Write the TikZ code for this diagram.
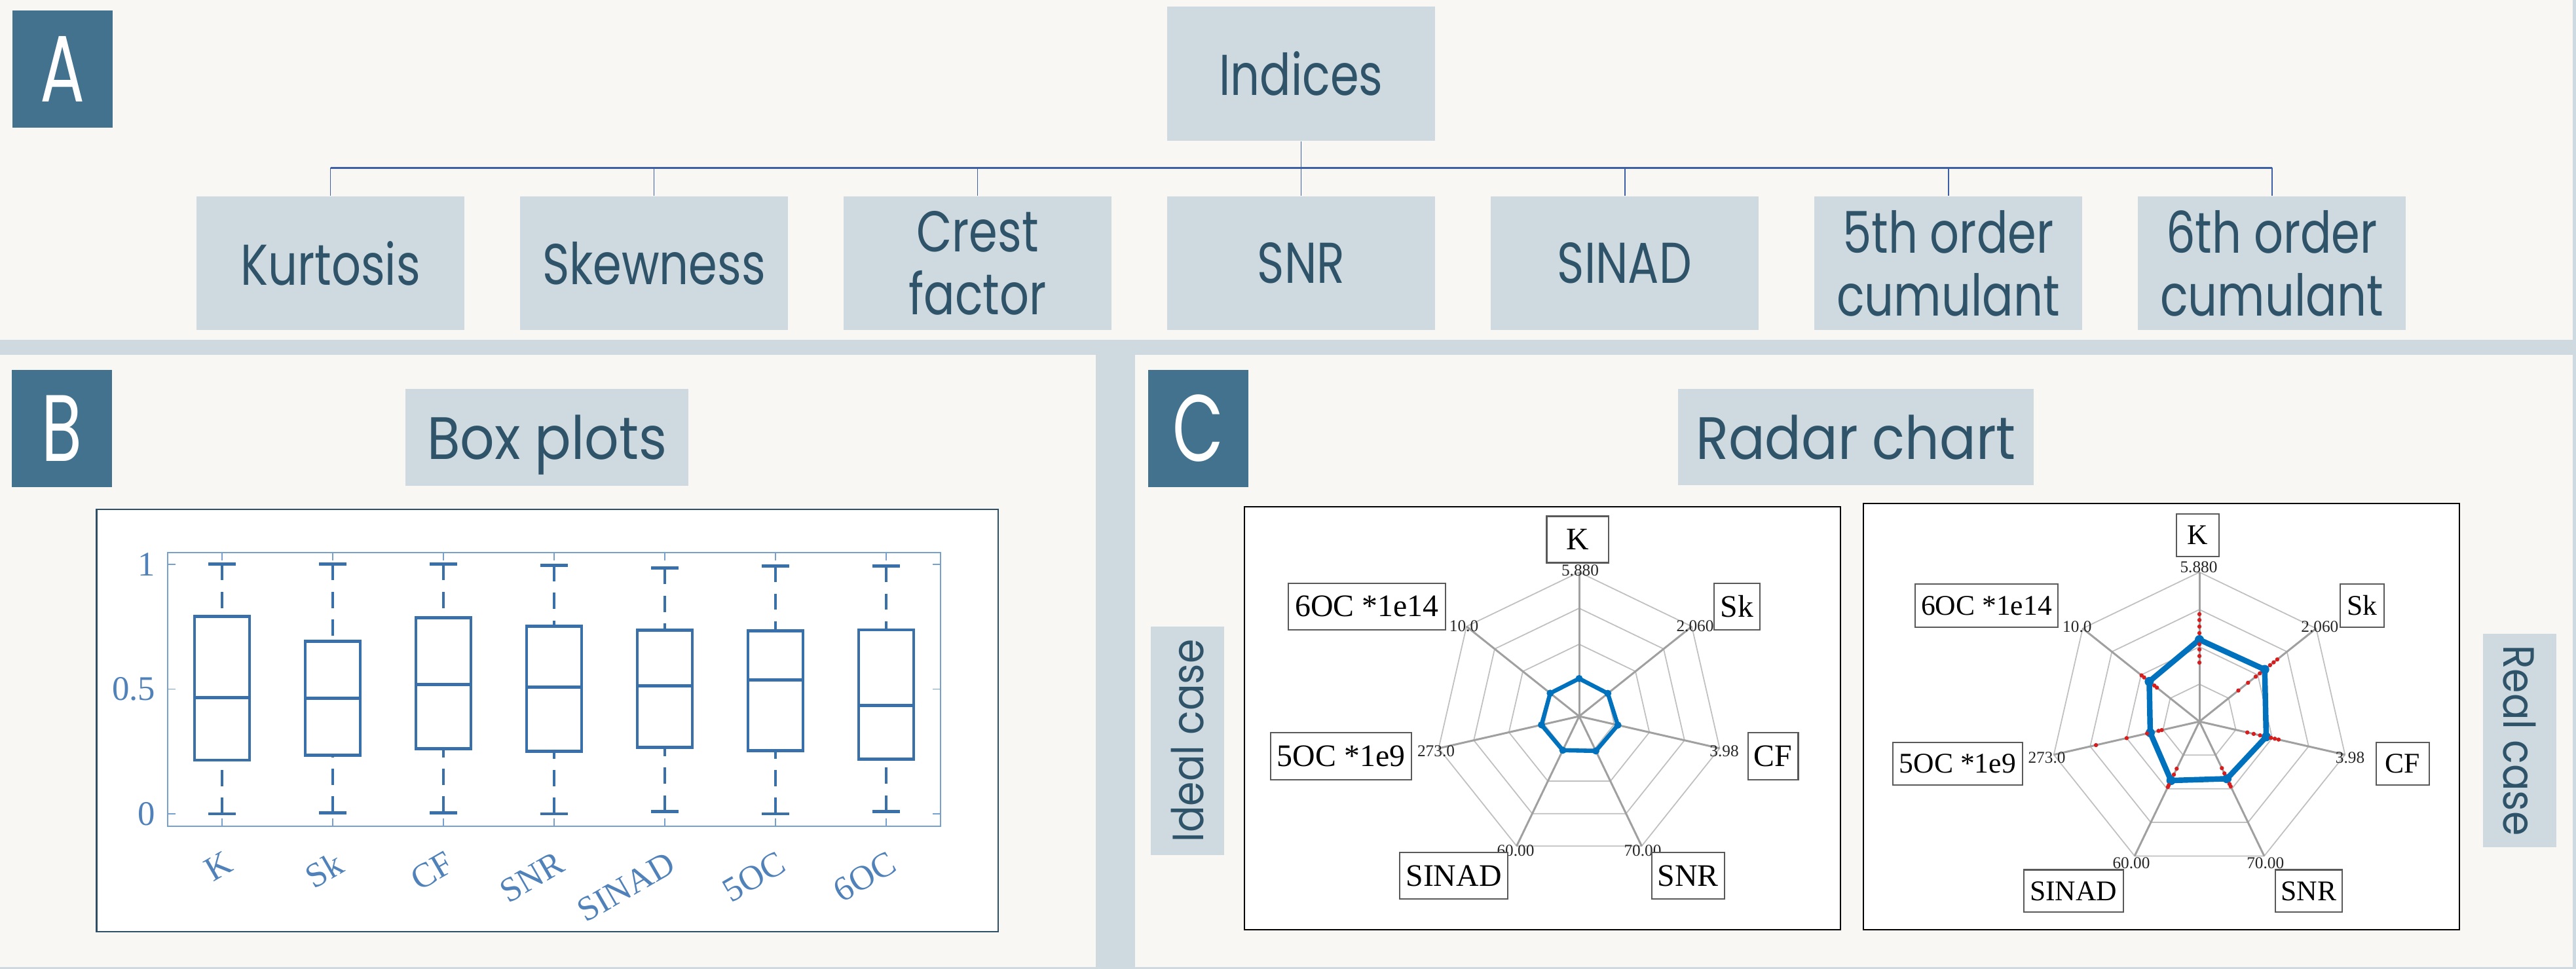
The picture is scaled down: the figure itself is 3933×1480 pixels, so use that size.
\documentclass[tikz,border=0pt]{standalone}
\usepackage{fontspec}
\setmainfont{Liberation Serif}
\newfontfamily\futf[FakeStretch=0.8]{Poppins}
\newfontfamily\titf[FakeStretch=0.9]{Poppins}
\newfontfamily\letf[FakeStretch=0.7]{Poppins}
\newfontfamily\casef[FakeStretch=0.9]{Poppins}
\definecolor{bgc}{RGB}{248,247,243}
\definecolor{panelc}{RGB}{207,218,224}
\definecolor{labc}{RGB}{67,114,143}
\definecolor{txtc}{RGB}{47,84,106}
\definecolor{connc}{RGB}{61,95,166}
\definecolor{bpc}{RGB}{58,112,170}
\definecolor{bpaxis}{RGB}{120,160,205}
\definecolor{bptxt}{RGB}{80,130,185}
\definecolor{frmc}{RGB}{46,79,102}
\definecolor{radblue}{RGB}{0,114,189}
\definecolor{gridc}{RGB}{192,192,192}
\definecolor{axc}{RGB}{160,160,160}
\definecolor{reddot}{RGB}{215,30,30}
\begin{document}
\begin{tikzpicture}[x=0.01cm,y=-0.01cm,
  ibox/.style={fill=panelc,text=txtc,minimum width=4.09cm,minimum height=2.04cm,inner sep=0pt,align=center,font=\futf\fontsize{25}{27.3}\selectfont},
  ttlbox/.style={fill=panelc,text=txtc,inner sep=0pt,text depth=0pt,font=\titf\fontsize{26}{28}\selectfont},
  lblbox/.style={fill=labc,text=white,minimum width=1.53cm,minimum height=1.79cm,inner sep=0pt,font=\letf\fontsize{41}{41}\selectfont},
  casebox/.style={fill=panelc,text=txtc,inner sep=0pt,minimum height=1.12cm,font=\casef\fontsize{19}{20}\selectfont},
  connv/.style={draw=connc,line width=0.55pt},
  connh/.style={draw=connc,line width=0.85pt},
  bpline/.style={draw=bpc,line width=1.4pt},
  whisk/.style={draw=bpc,line width=1.2pt,dash pattern=on 7pt off 5pt},
  bptick/.style={draw=bpaxis,line width=0.5pt},
  ytl/.style={text=bptxt,inner sep=0pt,anchor=east,font=\fontsize{15}{15}\selectfont},
  xtl/.style={text=bptxt,inner sep=0pt,anchor=north east,rotate=30,font=\fontsize{15}{15}\selectfont},
  gridl/.style={draw=gridc,line width=0.5pt},
  axl/.style={draw=axc,line width=0.85pt},
  valL/.style={inner sep=0pt,font=\fontsize{7.2}{7.2}\selectfont,text=black!85},
  rnameL/.style={draw=black!65,fill=white,line width=0.6pt,inner sep=0pt,font=\fontsize{13.6}{14}\selectfont},
  rnameR/.style={draw=black!65,fill=white,line width=0.6pt,inner sep=0pt,font=\fontsize{12.4}{13}\selectfont},
  frame/.style={draw=black,fill=white,line width=0.75pt}
]
\useasboundingbox (0,0) rectangle (3933,1480);
\fill[bgc] (0,0) rectangle (3933,1480);
% separators
\fill[panelc] (0,519) rectangle (3933,542);
\fill[panelc] (1673,542) rectangle (1733,1480);
\fill[panelc] (3928,0) rectangle (3933,1480);
\fill[panelc] (0,1477) rectangle (3933,1480);

% ---------------- Panel A ----------------
\node[lblbox] (labA) at (95.5,105.5) {A};
\node[ibox,minimum height=2.05cm] (idx) at (1986.5,112.5) {Indices};
\node[ibox] (k) at (504.5,402) {Kurtosis};
\node[ibox] (sk) at (998.5,402) {Skewness};
\node[ibox] (cf) at (1492.5,402) {Crest\\factor};
\node[ibox] (snr) at (1986.5,402) {SNR};
\node[ibox] (sinad) at (2480.5,402) {SINAD};
\node[ibox] (o5) at (2974.5,402) {5th order\\cumulant};
\node[ibox] (o6) at (3468.5,402) {6th order\\cumulant};
\coordinate (bus) at (1986.5,256.5);
\draw[connv] (idx.south) -- (bus);
\foreach \n in {k,sk,cf,snr,sinad,o5,o6} \draw[connv] (\n.north) -- (\n.north |- bus);
\draw[connh] (k.north |- bus) -- (o6.north |- bus);

% ---------------- Panel B ----------------
\node[lblbox] (labB) at (94.5,654.5) {B};
\node[ttlbox,minimum width=4.32cm,minimum height=1.48cm] (bpt) at (835,668) {Box plots};
\draw[draw=frmc,fill=white,line width=0.8pt] (147.5,778) rectangle (1524,1423);
\draw[draw=bpaxis,line width=0.6pt] (256,844) rectangle (1436,1262);
\foreach \yy in {862,1052.5,1243} {
  \draw[bptick] (256,\yy) -- (268,\yy);
  \draw[bptick] (1436,\yy) -- (1424,\yy);
}
\foreach \i in {0,...,6} {
  \draw[bptick] ({339+169*\i},844) -- ({339+169*\i},856);
  \draw[bptick] ({339+169*\i},1262) -- ({339+169*\i},1250);
}
\node[ytl] (yt1) at (238,862) {1};
\node[ytl] (yt05) at (238,1052.5) {0.5};
\node[ytl] (yt0) at (238,1243) {0};
\begin{scope}[shift={(339,1243)},x=0.01cm,y=3.81cm]
\foreach \i/\lo/\qa/\me/\qb/\hi in {0/0/0.215/0.465/0.79/1.0, 1/0.005/0.234/0.462/0.69/1.0, 2/0.005/0.262/0.517/0.785/1.0, 3/0/0.25/0.507/0.752/0.996, 4/0.01/0.266/0.512/0.735/0.984, 5/0/0.252/0.536/0.733/0.993, 6/0.01/0.218/0.433/0.737/0.993} {
  \pgfmathsetmacro\xx{169*\i}
  \draw[whisk] (\xx,\lo) -- (\xx,\qa) (\xx,\hi) -- (\xx,\qb);
  \draw[bpline] (\xx-21,\lo) -- (\xx+21,\lo) (\xx-21,\hi) -- (\xx+21,\hi);
  \draw[bpline] (\xx-42,\qa) rectangle (\xx+42,\qb);
  \draw[bpline] (\xx-42,\me) -- (\xx+42,\me);
}
\end{scope}
\node[xtl] (xlK) at (341,1298) {K};
\node[xtl] (xlSk) at (510,1298) {Sk};
\node[xtl] (xlCF) at (679,1298) {CF};
\node[xtl] (xlSNR) at (848,1298) {SNR};
\node[xtl] (xlSINAD) at (1017,1298) {SINAD};
\node[xtl] (xl5) at (1186,1298) {5OC};
\node[xtl] (xl6) at (1355,1298) {6OC};

% ---------------- Panel C ----------------
\node[lblbox] (labC) at (1829.5,654.5) {C};
\node[ttlbox,minimum width=5.43cm,minimum height=1.47cm] (rct) at (2833.5,667.5) {Radar chart};
\node[casebox,rotate=90,minimum width=3.49cm] (ideal) at (1813,1131.5) {Ideal case};
\node[casebox,rotate=-90,minimum width=3.26cm] (real) at (3847,1131) {Real case};

% left radar
\draw[frame] (1900,774) rectangle (2810,1420);
\begin{scope}[shift={(2411,1094)},x=0.01cm,y=0.01cm]
  \foreach \r in {55,110,165,220}
    \draw[gridl] (90:\r) -- (38.571:\r) -- (-12.857:\r) -- (-64.286:\r) -- (-115.714:\r) -- (-167.143:\r) -- (141.429:\r) -- cycle;
  \foreach \a in {90,38.571,-12.857,-64.286,-115.714,-167.143,141.429}
    \draw[axl] (0,0) -- (\a:220);
  \draw[radblue,line width=1.8pt,line join=round] (90:57.6) -- (38.571:56) -- (-12.857:60.6) -- (-64.286:58.8) -- (-115.714:57.6) -- (-167.143:59) -- (141.429:56.5) -- cycle;
  \foreach \a/\r in {90/57.6,38.571/56,-12.857/60.6,-64.286/58.8,-115.714/57.6,-167.143/59,141.429/56.5}
    \fill[radblue] (\a:\r) circle (5.5);
\end{scope}
\node[valL] (lv1) at (2412.5,871) {5.880};
\node[valL] (lv2) at (2588,956) {2.060};
\node[valL] (lv3) at (2632.5,1147) {3.98};
\node[valL] (lv4) at (2508,1299) {70.00};
\node[valL] (lv5) at (2314,1299) {60.00};
\node[valL] (lv6) at (2192.5,1147) {273.0};
\node[valL] (lv7) at (2235,956) {10.0};
\node[rnameL,minimum width=0.945cm,minimum height=0.71cm] (lnK) at (2408.8,824) {K};
\node[rnameL,minimum width=0.70cm,minimum height=0.71cm] (lnSk) at (2651.7,926.4) {Sk};
\node[rnameL,minimum width=0.764cm,minimum height=0.717cm] (lnCF) at (2707.2,1154.9) {CF};
\node[rnameL,minimum width=1.114cm,minimum height=0.71cm] (lnSNR) at (2577.3,1337.9) {SNR};
\node[rnameL,minimum width=1.65cm,minimum height=0.71cm] (lnSINAD) at (2219.5,1337.9) {SINAD};
\node[rnameL,minimum width=2.15cm,minimum height=0.717cm] (ln5) at (2047.5,1154.9) {5OC *1e9};
\node[rnameL,minimum width=2.40cm,minimum height=0.71cm] (ln6) at (2087,926.4) {6OC *1e14};

% right radar
\draw[frame] (2845,769) rectangle (3755,1420);
\begin{scope}[shift={(3358,1102)},x=0.01cm,y=0.01cm]
  \foreach \r in {57,114,171,228}
    \draw[gridl] (90:\r) -- (38.571:\r) -- (-12.857:\r) -- (-64.286:\r) -- (-115.714:\r) -- (-167.143:\r) -- (141.429:\r) -- cycle;
  \foreach \a in {90,38.571,-12.857,-64.286,-115.714,-167.143,141.429}
    \draw[axl] (0,0) -- (\a:228);
  \draw[radblue,line width=2.4pt,line join=round] (90:125) -- (38.571:127.5) -- (-12.857:104.6) -- (-64.286:97) -- (-115.714:100) -- (-167.143:77) -- (141.429:98) -- cycle;
  \foreach \a/\r in {90/125,38.571/127.5,-12.857/104.6,-64.286/97,-115.714/100,-167.143/77,141.429/98}
    \fill[radblue] (\a:\r) circle (7);
  \foreach \a/\r in {90/90,90/100,90/110,90/118,90/135,90/145,90/155,90/164,
                     38.571/76,38.571/95,38.571/110,38.571/118,38.571/138,38.571/145,38.571/152,
                     -12.857/75,-12.857/85,-12.857/95,-12.857/112,-12.857/118,-12.857/124,
                     -64.286/79,-64.286/88,-64.286/106,-64.286/110,
                     -115.714/80,-115.714/90,-115.714/108,-115.714/111,
                     -167.143/59,-167.143/64,-167.143/82,-167.143/114,-167.143/162,
                     141.429/83,141.429/88,141.429/108,141.429/113}
    \fill[reddot] (\a:\r) circle (3.2);
\end{scope}
\node[valL] (rv1) at (3357,866.5) {5.880};
\node[valL] (rv2) at (3541.8,957) {2.060};
\node[valL] (rv3) at (3588,1157.6) {3.98};
\node[valL] (rv4) at (3458.7,1318) {70.00};
\node[valL] (rv5) at (3254,1318) {60.00};
\node[valL] (rv6) at (3125,1157.6) {273.0};
\node[valL] (rv7) at (3171.3,957) {10.0};
\node[rnameR,minimum width=0.653cm,minimum height=0.647cm] (rnK) at (3355.2,817.2) {K};
\node[rnameR,minimum width=0.67cm,minimum height=0.66cm] (rnSk) at (3606.5,925) {Sk};
\node[rnameR,minimum width=0.813cm,minimum height=0.647cm] (rnCF) at (3668.4,1166.4) {CF};
\node[rnameR,minimum width=1.023cm,minimum height=0.645cm] (rnSNR) at (3524.8,1360.8) {SNR};
\node[rnameR,minimum width=1.516cm,minimum height=0.645cm] (rnSINAD) at (3165.8,1360.8) {SINAD};
\node[rnameR,minimum width=1.976cm,minimum height=0.647cm] (rn5) at (2988.8,1166.4) {5OC *1e9};
\node[rnameR,minimum width=2.18cm,minimum height=0.66cm] (rn6) at (3033,925) {6OC *1e14};
\end{tikzpicture}
\end{document}
